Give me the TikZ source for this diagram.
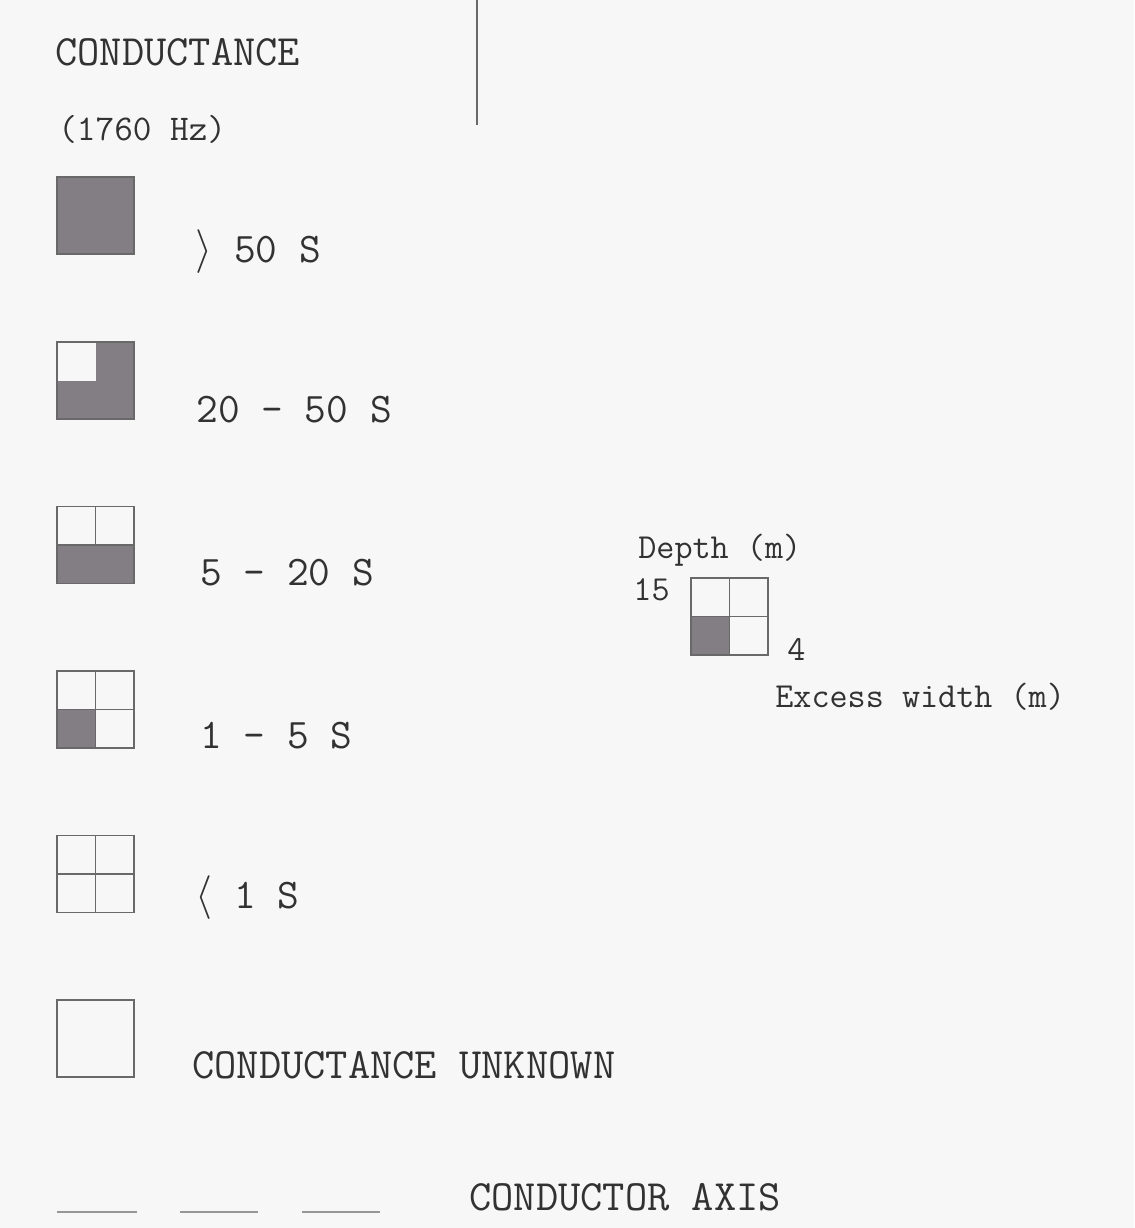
\documentclass[tikz,border=0pt]{standalone}
\usetikzlibrary{positioning,backgrounds}
\definecolor{bg}{RGB}{247,247,247}
\definecolor{sc}{RGB}{130,126,132}
\definecolor{ln}{RGB}{105,105,105}
\definecolor{tc}{RGB}{50,50,50}
\tikzset{t/.style={font=\ttfamily\fontsize{24}{28}\selectfont,text=tc,anchor=base west,inner sep=0pt},
 big/.style={t,font=\ttfamily\fontsize{24.6}{28}\selectfont},
 s/.style={t,font=\ttfamily\fontsize{20}{24}\selectfont},
 cell/.style={draw=ln,line width=.9pt,minimum size=15.4mm,inner sep=0pt,outer sep=0pt},
 full/.style={cell,fill=sc},
 rule/.style={draw=ln,line width=1.1pt},
 axis/.style={draw=ln!70,line width=.6pt}}
\begin{document}
\begin{tikzpicture}[x=0.02cm,y=-0.02cm]
\useasboundingbox (0,0) rectangle (1134,1228);
\draw[rule] (477,0) -- (477,125);
% heading
\node[big] (ttl) at (55,65) {CONDUCTANCE};
\node[s,font=\ttfamily\fontsize{20.6}{24}\selectfont] (hz) at (58,140) {(1760 Hz)};
% legend squares
\node[full] (c1) at (95.5,215.5) {};
\node[cell] (c2) at (95.5,380.5) {};
\node[cell] (c3) at (95.5,545) {};
\node[cell] (c4) at (95.5,709.5) {};
\node[cell] (c5) at (95.5,874) {};
\node[cell] (c6) at (95.5,1038.5) {};
\node[cell] (d) at (729.5,616.5) {};
\begin{scope}[on background layer]
\fill[bg] (0,0) rectangle (1134,1228);
\fill[sc] (c2.west) rectangle (c2.south east);
\fill[sc] (c2.north) rectangle (c2.east);
\fill[sc] (c3.west) rectangle (c3.south east);
\fill[sc] (c4.west) rectangle (c4.south);
\fill[sc] (d.west) rectangle (d.south);
\end{scope}
\draw[cell] (c3.north) -- (c3.center);
\draw[cell] (c3.west) -- (c3.east);
\foreach \c in {c4,c5,d}{\draw[cell] (\c.north) -- (\c.south) (\c.west) -- (\c.east);}
% legend texts
\node[t] (l1) at (195,262) {$\rangle$ 50 S};
\node[t] (l2) at (196,422) {20 - 50 S};
\node[t] (l3) at (200,585) {5 - 20 S};
\node[t] (l4) at (200,748) {1 - 5 S};
\node[t] (l5) at (195,908) {$\langle$ 1 S};
\node[big] (l6) at (192,1078) {CONDUCTANCE UNKNOWN};
% depth key
\node[s] (dep) at (638,558) {Depth (m)};
\node[s,left=4.2mm of d.north west,anchor=north east] (dv) {15};
\node[s,right=3.8mm of d.south east,anchor=base west,yshift=-1mm] (wv) {4};
\node[s] (exw) at (775,707) {Excess width (m)};
% conductor axis
\foreach \a/\b in {57/137,180/258,302/380}{\draw[axis] (\a,1212) -- (\b,1212);}
\node[big] (ax) at (469,1210) {CONDUCTOR AXIS};
\end{tikzpicture}
\end{document}
